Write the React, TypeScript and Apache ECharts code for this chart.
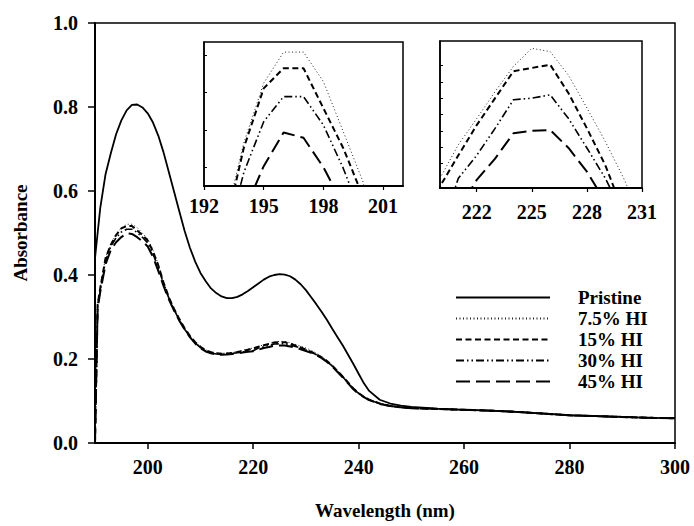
import React, { useEffect, useRef } from "react";
import * as echarts from "echarts";

const FONT = "'Liberation Serif', 'Times New Roman', serif";

const wavelengths = [
  190, 190.5, 191, 192, 193, 194, 195, 196, 197, 198, 199, 200, 201, 202, 203, 204, 205, 206, 207, 208, 209,
  210, 211, 212, 213, 214, 215, 216, 217, 218, 219, 220, 221, 222, 223, 224, 225, 226, 227, 228, 229,
  230, 231, 232, 233, 234, 235, 236, 237, 238, 239, 240, 241, 242, 244, 246, 248, 250,
  255, 260, 265, 270, 275, 280, 285, 290, 295, 300,
];

const pristine = [
  0.44, 0.5, 0.56, 0.64, 0.69, 0.735, 0.768, 0.792, 0.805, 0.806, 0.799, 0.785, 0.763, 0.732, 0.692, 0.645, 0.598, 0.551, 0.505, 0.465, 0.432,
  0.405, 0.385, 0.368, 0.357, 0.349, 0.345, 0.345, 0.348, 0.354, 0.362, 0.371, 0.38, 0.389, 0.396, 0.4, 0.402, 0.401, 0.397, 0.389, 0.378,
  0.364, 0.347, 0.33, 0.312, 0.293, 0.272, 0.252, 0.232, 0.21, 0.188, 0.165, 0.142, 0.124, 0.103, 0.094, 0.089, 0.086,
  0.082, 0.079, 0.077, 0.074, 0.07, 0.066, 0.064, 0.062, 0.06, 0.059,
];

const hi75 = [
  0.0, 0.33, 0.372, 0.442, 0.474, 0.4965, 0.5125, 0.5208, 0.5208, 0.5129, 0.4995, 0.486, 0.459, 0.426, 0.384, 0.348, 0.32, 0.296, 0.274, 0.256, 0.241,
  0.23, 0.222, 0.217, 0.2145, 0.2135, 0.214, 0.2155, 0.2175, 0.2205, 0.2235, 0.2262, 0.2303, 0.2335, 0.2368, 0.2399, 0.2421, 0.2417, 0.2388, 0.2348, 0.2307,
  0.2262, 0.221, 0.214, 0.206, 0.197, 0.186, 0.173, 0.16, 0.145, 0.131, 0.12, 0.111, 0.104, 0.095, 0.089, 0.086, 0.084,
  0.081, 0.079, 0.077, 0.074, 0.07, 0.066, 0.064, 0.062, 0.06, 0.059,
];

const hi15 = [
  0.0, 0.33, 0.369, 0.44, 0.472, 0.4952, 0.5111, 0.5165, 0.5165, 0.5058, 0.4951, 0.482, 0.456, 0.423, 0.382, 0.347, 0.319, 0.295, 0.273, 0.255, 0.24,
  0.229, 0.221, 0.216, 0.2135, 0.2125, 0.213, 0.2145, 0.2165, 0.2192, 0.222, 0.2252, 0.229, 0.2327, 0.236, 0.2393, 0.2397, 0.2401, 0.2366, 0.2323, 0.2278,
  0.222, 0.217, 0.211, 0.204, 0.195, 0.184, 0.171, 0.158, 0.144, 0.13, 0.119, 0.11, 0.103, 0.094, 0.088, 0.085, 0.083,
  0.081, 0.079, 0.077, 0.074, 0.07, 0.066, 0.064, 0.062, 0.06, 0.059,
];

const hi30 = [
  0.0, 0.325, 0.365, 0.434, 0.468, 0.4886, 0.5022, 0.5089, 0.5089, 0.5013, 0.4897, 0.476, 0.45, 0.418, 0.379, 0.345, 0.317, 0.293, 0.271, 0.253, 0.238,
  0.227, 0.219, 0.2145, 0.212, 0.211, 0.2115, 0.213, 0.2148, 0.2168, 0.2185, 0.2195, 0.2262, 0.229, 0.2323, 0.2358, 0.236, 0.2364, 0.2335, 0.2299, 0.2262,
  0.2217, 0.2165, 0.21, 0.203, 0.194, 0.183, 0.17, 0.157, 0.143, 0.129, 0.118, 0.109, 0.102, 0.094, 0.088, 0.085, 0.083,
  0.081, 0.079, 0.077, 0.074, 0.07, 0.066, 0.064, 0.062, 0.06, 0.059,
];

const hi45 = [
  0.0, 0.32, 0.36, 0.425, 0.46, 0.478, 0.4903, 0.4993, 0.4979, 0.49, 0.48, 0.468, 0.443, 0.41, 0.374, 0.342, 0.315, 0.291, 0.27, 0.252, 0.237,
  0.226, 0.218, 0.2135, 0.211, 0.21, 0.2105, 0.2118, 0.2135, 0.2155, 0.217, 0.2185, 0.2222, 0.226, 0.2286, 0.2317, 0.232, 0.2321, 0.2299, 0.227, 0.2233,
  0.219, 0.2145, 0.209, 0.202, 0.193, 0.182, 0.169, 0.156, 0.142, 0.128, 0.117, 0.109, 0.102, 0.093, 0.088, 0.085, 0.083,
  0.081, 0.079, 0.077, 0.074, 0.07, 0.066, 0.064, 0.062, 0.06, 0.059,
];

const seriesNames = ["Pristine", "7.5% HI", "15% HI", "30% HI", "45% HI"];
const mainXTicks = [200, 220, 240, 260, 280, 300];
const inset1XTicks = [192, 195, 198, 201];
const inset1YTicks = [0.49, 0.5, 0.51, 0.52];
const inset2XTicks = [222, 225, 228, 231];
const inset2YTicks = [0.228, 0.23, 0.232, 0.234, 0.236, 0.238, 0.24];

const lineStyles: any[] = [
  { color: "#000", width: 1.8, type: "solid" },
  { color: "#222", width: 1, type: [1, 2.5] },
  { color: "#000", width: 2, type: [6, 3.5] },
  { color: "#000", width: 1.6, type: [8, 3, 1.5, 3, 1.5, 3] },
  { color: "#000", width: 2, type: [14, 6] },
];

const valueSets = [pristine, hi75, hi15, hi30, hi45];

const labelStyle = { fontFamily: FONT, fontWeight: "bold" as const, fontSize: 20, color: "#000" };

export default function App() {
  const ref = useRef<HTMLDivElement>(null);
  useEffect(() => {
    if (!ref.current) return;
    const chart = echarts.init(ref.current, undefined, { renderer: "svg" });
    const toData = (vals: number[]) => wavelengths.map((w, i) => [w, vals[i]]);
    const series: any[] = [];
    valueSets.forEach((vals, k) => {
      series.push({
        name: seriesNames[k],
        type: "line",
        xAxisIndex: 0,
        yAxisIndex: 0,
        data: toData(vals),
        symbol: "none",
        lineStyle: lineStyles[k],
        itemStyle: { color: "#000" },
      });
    });
    [1, 2].forEach((g) => {
      valueSets.forEach((vals, k) => {
        if (k === 0) return;
        series.push({
          name: seriesNames[k],
          type: "line",
          xAxisIndex: g,
          yAxisIndex: g,
          data: toData(vals),
          symbol: "none",
          clip: true,
          lineStyle: lineStyles[k],
          itemStyle: { color: "#000" },
        });
      });
    });

    const insetX = (gi: number, min: number, max: number, ticks: number[], margin: number) => ({
      type: "value",
      gridIndex: gi,
      min,
      max,
      axisLine: { show: true, onZero: false, lineStyle: { color: "#000", width: 2 } },
      axisTick: { show: true, inside: false, length: 4, customValues: ticks, lineStyle: { color: "#000", width: 1.2 } },
      axisLabel: { show: true, customValues: ticks, margin, ...labelStyle },
      splitLine: { show: false },
    });
    const insetY = (gi: number, min: number, max: number, ticks: number[]) => ({
      type: "value",
      gridIndex: gi,
      min,
      max,
      axisLine: { show: true, onZero: false, lineStyle: { color: "#000", width: 1.5 } },
      axisTick: { show: true, inside: true, length: 3, customValues: ticks, lineStyle: { color: "#000", width: 1 } },
      axisLabel: { show: false, customValues: ticks },
      splitLine: { show: false },
    });

    chart.setOption({
      animation: false,
      backgroundColor: "#fff",
      grid: [
        { left: 95, top: 23, width: 580, height: 420, show: true, borderColor: "#000", borderWidth: 1.5 },
        { left: 204, top: 42, width: 199, height: 144, show: true, borderColor: "#000", borderWidth: 1.5 },
        { left: 440, top: 41, width: 202, height: 147, show: true, borderColor: "#000", borderWidth: 1.5 },
      ],
      legend: {
        orient: "vertical",
        left: 455,
        top: 288,
        padding: 0,
        itemWidth: 94,
        itemHeight: 14,
        itemGap: 2,
        data: seriesNames,
        itemStyle: { opacity: 0 },
        textStyle: { ...labelStyle, fontSize: 19, padding: [0, 0, 0, 23] },
        selectedMode: false,
      },
      xAxis: [
        {
          type: "value",
          gridIndex: 0,
          min: 190,
          max: 300,
          name: "Wavelength (nm)",
          nameLocation: "middle",
          nameGap: 58,
          nameTextStyle: { ...labelStyle, fontSize: 19 },
          axisLine: { show: true, onZero: false, lineStyle: { color: "#000", width: 2 } },
          axisTick: { show: true, inside: false, length: 6, customValues: mainXTicks, lineStyle: { color: "#000", width: 1.5 } },
          axisLabel: { show: true, customValues: mainXTicks, margin: 14, ...labelStyle },
          splitLine: { show: false },
        },
        insetX(1, 192, 202, inset1XTicks, 10),
        insetX(2, 220, 231, inset2XTicks, 14),
      ],
      yAxis: [
        {
          type: "value",
          gridIndex: 0,
          min: 0,
          max: 1,
          interval: 0.2,
          name: "Absorbance",
          nameLocation: "middle",
          nameGap: 65,
          nameTextStyle: { ...labelStyle, fontSize: 19 },
          axisLine: { show: true, onZero: false, lineStyle: { color: "#000", width: 2 } },
          axisTick: { show: true, inside: false, length: 7, lineStyle: { color: "#000", width: 1.5 } },
          axisLabel: { show: true, margin: 17, formatter: (v: number) => v.toFixed(1), ...labelStyle },
          splitLine: { show: false },
        },
        insetY(1, 0.485, 0.5235, inset1YTicks),
        insetY(2, 0.225, 0.243, inset2YTicks),
      ],
      series,
    });
    return () => chart.dispose();
  }, []);
  return (
    <div
      ref={ref}
      style={{ position: "absolute", left: 0, top: 0, width: 694, height: 526, background: "#fff" }}
    />
  );
}
